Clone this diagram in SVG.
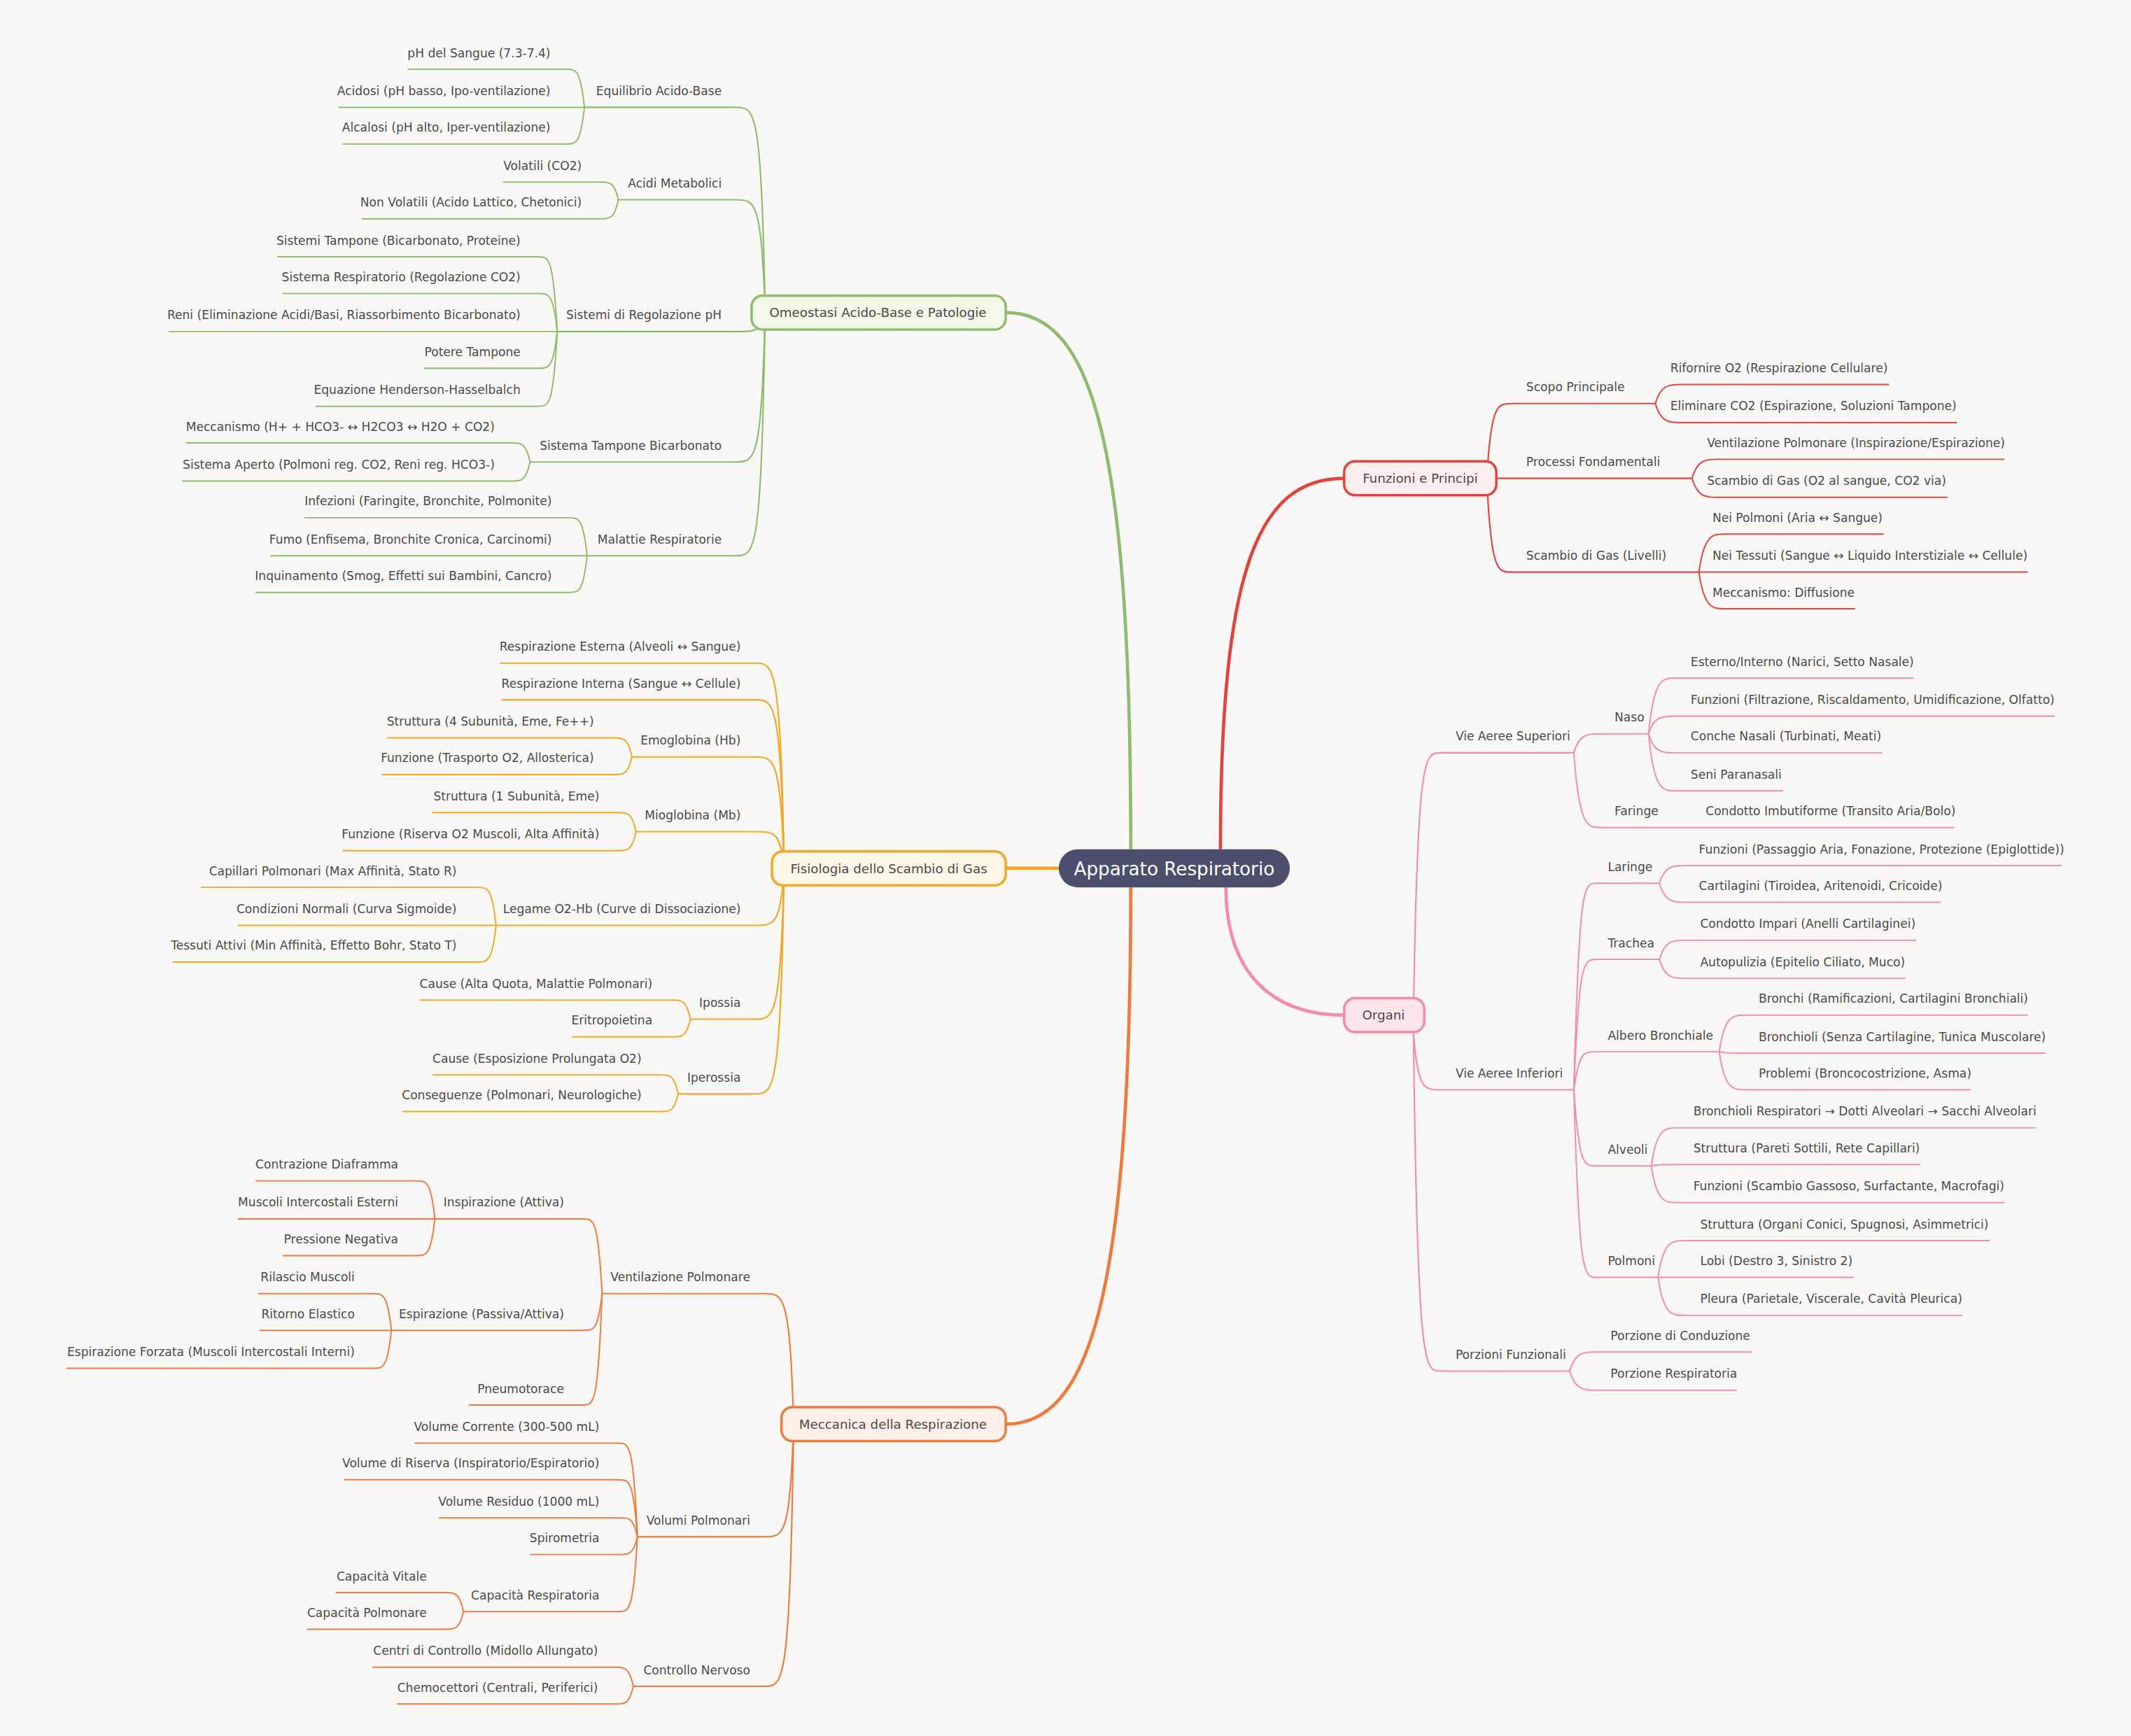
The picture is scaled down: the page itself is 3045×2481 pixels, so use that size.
<svg xmlns="http://www.w3.org/2000/svg" width="3045" height="2481" viewBox="0 0 3045 2481">
<style>
text{font-family:"DejaVu Sans","Noto Sans",sans-serif;fill:#4a4a4a;font-size:8.8px}
.e{text-anchor:end}
.c{text-anchor:middle;font-size:9.4px}
path{fill:none}
.g{stroke:#8fbb6e}.r{stroke:#e0443a}.p{stroke:#f78aa6}.o{stroke:#f5a623}.m{stroke:#ee7a3c}
.main{stroke-width:2.4}.sub{stroke-width:1.1}.leaf{stroke-width:1}
</style>
<rect width="3045" height="2481" fill="#f9f8f6"/>
<g transform="scale(1.942)">
<g id="connectors">
<path class="g main" d="M832,625 C832,330 805,230 740,230"/>
<path class="r main" d="M898,625 C898,420 925,352 989,352"/>
<path class="p main" d="M902,653 C902,715 935,747 989,747"/>
<path class="o main" d="M779,639 H740"/>
<path class="m main" d="M832,653 C832,960 800,1048 740,1048"/>
<g class="g sub">
<path d="M563,230 C560,79 556,79 541,79 H430"/>
<path d="M563,230 C560,147 556,147 541,147 H455"/>
<path d="M563,230 C560,244 556,244 541,244 H410"/>
<path d="M563,230 C560,340 556,340 541,340 H390"/>
<path d="M563,230 C560,409 556,409 541,409 H432"/>
</g>
<g class="g leaf">
<path d="M430,79 C427,51 424,51 416,51 H300"/><path d="M430,79 H249"/><path d="M430,79 C427,106 424,106 416,106 H252"/>
<path d="M455,147 C452,134 449,134 441,134 H370"/><path d="M455,147 C452,161 449,161 441,161 H266"/>
<path d="M410,244 C407,189 404,189 396,189 H204"/><path d="M410,244 C407,216 404,216 396,216 H208"/><path d="M410,244 H124"/><path d="M410,244 C407,271 404,271 396,271 H312"/><path d="M410,244 C407,299 404,299 396,299 H232"/>
<path d="M390,340 C387,326 384,326 376,326 H137"/><path d="M390,340 C387,354 384,354 376,354 H134"/>
<path d="M432,409 C429,381 426,381 418,381 H224"/><path d="M432,409 H199"/><path d="M432,409 C429,436 426,436 418,436 H188"/>
</g>
<g class="o sub">
<path d="M577,639 C574,488 570,488 555,488 H368"/>
<path d="M577,639 C574,515 570,515 555,515 H369"/>
<path d="M577,639 C574,557 570,557 555,557 H465"/>
<path d="M577,639 C574,612 570,612 555,612 H468"/>
<path d="M577,639 C574,681 570,681 555,681 H365"/>
<path d="M577,639 C574,750 570,750 555,750 H508"/>
<path d="M577,639 C574,805 570,805 555,805 H499"/>
</g>
<g class="o leaf">
<path d="M465,557 C462,543 459,543 451,543 H285"/><path d="M465,557 C462,570 459,570 451,570 H281"/>
<path d="M468,612 C465,598 462,598 454,598 H318"/><path d="M468,612 C465,626 462,626 454,626 H252"/>
<path d="M365,681 C362,653 359,653 351,653 H148"/><path d="M365,681 H175"/><path d="M365,681 C362,708 359,708 351,708 H127"/>
<path d="M508,750 C505,736 502,736 494,736 H309"/><path d="M508,750 C505,763 502,763 494,763 H421"/>
<path d="M499,805 C496,791 493,791 485,791 H318"/><path d="M499,805 C496,818 493,818 485,818 H296"/>
</g>
<g class="m sub">
<path d="M584,1048 C581,952 577,952 562,952 H443"/>
<path d="M584,1048 C581,1131 577,1131 562,1131 H469"/>
<path d="M584,1048 C581,1241 577,1241 562,1241 H466"/>
</g>
<g class="m leaf">
<path d="M443,952 C440,897 437,897 429,897 H320"/><path d="M443,952 C440,979 437,979 429,979 H288"/><path d="M443,952 C440,1034 437,1034 429,1034 H345"/>
<path d="M320,897 C317,869 314,869 306,869 H188"/><path d="M320,897 H175"/><path d="M320,897 C317,924 314,924 306,924 H208"/>
<path d="M288,979 C285,952 282,952 274,952 H190"/><path d="M288,979 H191"/><path d="M288,979 C285,1007 282,1007 274,1007 H49"/>
<path d="M469,1131 C466,1062 463,1062 455,1062 H305"/><path d="M469,1131 C466,1089 463,1089 455,1089 H253"/><path d="M469,1131 C466,1117 463,1117 455,1117 H323"/><path d="M469,1131 C466,1144 463,1144 455,1144 H390"/><path d="M469,1131 C466,1186 463,1186 455,1186 H341"/>
<path d="M341,1186 C338,1172 335,1172 327,1172 H247"/><path d="M341,1186 C338,1199 335,1199 327,1199 H226"/>
<path d="M466,1241 C463,1227 460,1227 452,1227 H274"/><path d="M466,1241 C463,1254 460,1254 452,1254 H292"/>
</g>
<g class="r sub">
<path d="M1094,352 C1097,297 1102,297 1112,297 H1218"/>
<path d="M1094,352 H1245"/>
<path d="M1094,352 C1097,421 1102,421 1112,421 H1250"/>
</g>
<g class="r leaf">
<path d="M1218,297 C1222,283 1228,283 1238,283 H1390"/><path d="M1218,297 C1222,311 1228,311 1238,311 H1440"/>
<path d="M1245,352 C1249,338 1255,338 1265,338 H1475"/><path d="M1245,352 C1249,366 1255,366 1265,366 H1433"/>
<path d="M1250,421 C1254,393 1260,393 1270,393 H1386"/><path d="M1250,421 H1492"/><path d="M1250,421 C1254,448 1260,448 1270,448 H1365"/>
</g>
<g class="p sub">
<path d="M1040,747 C1043,554 1048,554 1060,554 H1158"/>
<path d="M1040,760 C1043,802 1048,802 1060,802 H1158"/>
<path d="M1040,760 C1043,1009 1048,1009 1060,1009 H1155"/>
</g>
<g class="p leaf">
<path d="M1158,554 C1162,540 1168,540 1178,540 H1213"/><path d="M1158,554 C1162,609 1168,609 1178,609 H1438"/>
<path d="M1213,540 C1217,499 1223,499 1233,499 H1408"/><path d="M1213,540 C1217,527 1223,527 1233,527 H1512"/><path d="M1213,540 C1217,554 1223,554 1233,554 H1385"/><path d="M1213,540 C1217,582 1223,582 1233,582 H1312"/>
<path d="M1158,802 C1162,650 1165,650 1175,650 H1221"/><path d="M1158,802 C1162,706 1165,706 1175,706 H1221"/><path d="M1158,802 C1162,774 1165,774 1175,774 H1265"/><path d="M1158,802 C1162,858 1165,858 1175,858 H1215"/><path d="M1158,802 C1162,940 1165,940 1175,940 H1220"/>
<path d="M1221,650 C1225,637 1231,637 1241,637 H1517"/><path d="M1221,650 C1225,664 1231,664 1241,664 H1428"/>
<path d="M1221,706 C1225,692 1231,692 1241,692 H1410"/><path d="M1221,706 C1225,720 1231,720 1241,720 H1402"/>
<path d="M1265,774 C1269,747 1275,747 1285,747 H1492"/><path d="M1265,774 C1269,775 1275,775 1285,775 H1505"/><path d="M1265,774 C1269,802 1275,802 1285,802 H1450"/>
<path d="M1215,858 C1219,830 1225,830 1235,830 H1498"/><path d="M1215,858 C1219,857 1225,857 1235,857 H1413"/><path d="M1215,858 C1219,885 1225,885 1235,885 H1475"/>
<path d="M1220,940 C1224,913 1230,913 1240,913 H1464"/><path d="M1220,940 H1364"/><path d="M1220,940 C1224,968 1230,968 1240,968 H1444"/>
<path d="M1155,1009 C1159,995 1165,995 1175,995 H1289"/><path d="M1155,1009 C1159,1023 1165,1023 1175,1023 H1278"/>
</g>
</g>
<g id="root"><rect x="779" y="625" width="170" height="28" rx="14" fill="#4b4f6b"/><text x="864" y="644" class="c" style="fill:#fff;font-size:13.5px">Apparato Respiratorio</text></g>
<g id="omeostasi"><rect x="553" y="217.5" width="187" height="25" rx="8" fill="#f1f8e8" stroke="#8fbb6e" stroke-width="1.8"/><text x="646" y="233.5" class="c">Omeostasi Acido-Base e Patologie</text></g>
<g id="funzioni"><rect x="989" y="339.5" width="112" height="25" rx="8" fill="#fdeeee" stroke="#e0443a" stroke-width="1.8"/><text x="1045" y="355.5" class="c">Funzioni e Principi</text></g>
<g id="organi"><rect x="989" y="734.5" width="59" height="25" rx="8" fill="#fde5ec" stroke="#f78aa6" stroke-width="1.8"/><text x="1018" y="750.5" class="c">Organi</text></g>
<g id="fisiologia"><rect x="568" y="626.5" width="172" height="25" rx="8" fill="#fef6e6" stroke="#f5a623" stroke-width="1.8"/><text x="654" y="642.5" class="c">Fisiologia dello Scambio di Gas</text></g>
<g id="meccanica"><rect x="575" y="1035.5" width="165" height="25" rx="8" fill="#fdf0e8" stroke="#ee7a3c" stroke-width="1.8"/><text x="657" y="1051.5" class="c">Meccanica della Respirazione</text></g>
<g id="labels-left">
<text class="e" x="531" y="70">Equilibrio Acido-Base</text>
<text class="e" x="405" y="42">pH del Sangue (7.3-7.4)</text>
<text class="e" x="405" y="70">Acidosi (pH basso, Ipo-ventilazione)</text>
<text class="e" x="405" y="97">Alcalosi (pH alto, Iper-ventilazione)</text>
<text class="e" x="531" y="138">Acidi Metabolici</text>
<text class="e" x="428" y="125">Volatili (CO2)</text>
<text class="e" x="428" y="152">Non Volatili (Acido Lattico, Chetonici)</text>
<text class="e" x="531" y="235">Sistemi di Regolazione pH</text>
<text class="e" x="383" y="180">Sistemi Tampone (Bicarbonato, Proteine)</text>
<text class="e" x="383" y="207">Sistema Respiratorio (Regolazione CO2)</text>
<text class="e" x="383" y="235">Reni (Eliminazione Acidi/Basi, Riassorbimento Bicarbonato)</text>
<text class="e" x="383" y="262">Potere Tampone</text>
<text class="e" x="383" y="290">Equazione Henderson-Hasselbalch</text>
<text class="e" x="531" y="331">Sistema Tampone Bicarbonato</text>
<text class="e" x="364" y="317">Meccanismo (H+ + HCO3- ↔ H2CO3 ↔ H2O + CO2)</text>
<text class="e" x="364" y="345">Sistema Aperto (Polmoni reg. CO2, Reni reg. HCO3-)</text>
<text class="e" x="531" y="400">Malattie Respiratorie</text>
<text class="e" x="406" y="372">Infezioni (Faringite, Bronchite, Polmonite)</text>
<text class="e" x="406" y="400">Fumo (Enfisema, Bronchite Cronica, Carcinomi)</text>
<text class="e" x="406" y="427">Inquinamento (Smog, Effetti sui Bambini, Cancro)</text>
<text class="e" x="545" y="479">Respirazione Esterna (Alveoli ↔ Sangue)</text>
<text class="e" x="545" y="506">Respirazione Interna (Sangue ↔ Cellule)</text>
<text class="e" x="545" y="548">Emoglobina (Hb)</text>
<text class="e" x="437" y="534">Struttura (4 Subunità, Eme, Fe++)</text>
<text class="e" x="437" y="561">Funzione (Trasporto O2, Allosterica)</text>
<text class="e" x="545" y="603">Mioglobina (Mb)</text>
<text class="e" x="441" y="589">Struttura (1 Subunità, Eme)</text>
<text class="e" x="441" y="617">Funzione (Riserva O2 Muscoli, Alta Affinità)</text>
<text class="e" x="545" y="672">Legame O2-Hb (Curve di Dissociazione)</text>
<text class="e" x="336" y="644">Capillari Polmonari (Max Affinità, Stato R)</text>
<text class="e" x="336" y="672">Condizioni Normali (Curva Sigmoide)</text>
<text class="e" x="336" y="699">Tessuti Attivi (Min Affinità, Effetto Bohr, Stato T)</text>
<text class="e" x="545" y="741">Ipossia</text>
<text class="e" x="480" y="727">Cause (Alta Quota, Malattie Polmonari)</text>
<text class="e" x="480" y="754">Eritropoietina</text>
<text class="e" x="545" y="796">Iperossia</text>
<text class="e" x="472" y="782">Cause (Esposizione Prolungata O2)</text>
<text class="e" x="472" y="809">Conseguenze (Polmonari, Neurologiche)</text>
<text class="e" x="552" y="943">Ventilazione Polmonare</text>
<text class="e" x="415" y="888">Inspirazione (Attiva)</text>
<text class="e" x="293" y="860">Contrazione Diaframma</text>
<text class="e" x="293" y="888">Muscoli Intercostali Esterni</text>
<text class="e" x="293" y="915">Pressione Negativa</text>
<text class="e" x="415" y="970">Espirazione (Passiva/Attiva)</text>
<text class="e" x="261" y="943">Rilascio Muscoli</text>
<text class="e" x="261" y="970">Ritorno Elastico</text>
<text class="e" x="261" y="998">Espirazione Forzata (Muscoli Intercostali Interni)</text>
<text class="e" x="415" y="1025">Pneumotorace</text>
<text class="e" x="552" y="1122">Volumi Polmonari</text>
<text class="e" x="441" y="1053">Volume Corrente (300-500 mL)</text>
<text class="e" x="441" y="1080">Volume di Riserva (Inspiratorio/Espiratorio)</text>
<text class="e" x="441" y="1108">Volume Residuo (1000 mL)</text>
<text class="e" x="441" y="1135">Spirometria</text>
<text class="e" x="441" y="1177">Capacità Respiratoria</text>
<text class="e" x="314" y="1163">Capacità Vitale</text>
<text class="e" x="314" y="1190">Capacità Polmonare</text>
<text class="e" x="552" y="1232">Controllo Nervoso</text>
<text class="e" x="440" y="1218">Centri di Controllo (Midollo Allungato)</text>
<text class="e" x="440" y="1245">Chemocettori (Centrali, Periferici)</text>
</g>
<g id="labels-right">
<text x="1123" y="288">Scopo Principale</text>
<text x="1229" y="274">Rifornire O2 (Respirazione Cellulare)</text>
<text x="1229" y="302">Eliminare CO2 (Espirazione, Soluzioni Tampone)</text>
<text x="1123" y="343">Processi Fondamentali</text>
<text x="1256" y="329">Ventilazione Polmonare (Inspirazione/Espirazione)</text>
<text x="1256" y="357">Scambio di Gas (O2 al sangue, CO2 via)</text>
<text x="1123" y="412">Scambio di Gas (Livelli)</text>
<text x="1260" y="384">Nei Polmoni (Aria ↔ Sangue)</text>
<text x="1260" y="412">Nei Tessuti (Sangue ↔ Liquido Interstiziale ↔ Cellule)</text>
<text x="1260" y="439">Meccanismo: Diffusione</text>
<text x="1071" y="545">Vie Aeree Superiori</text>
<text x="1188" y="531">Naso</text>
<text x="1244" y="490">Esterno/Interno (Narici, Setto Nasale)</text>
<text x="1244" y="518">Funzioni (Filtrazione, Riscaldamento, Umidificazione, Olfatto)</text>
<text x="1244" y="545">Conche Nasali (Turbinati, Meati)</text>
<text x="1244" y="573">Seni Paranasali</text>
<text x="1188" y="600">Faringe</text>
<text x="1255" y="600">Condotto Imbutiforme (Transito Aria/Bolo)</text>
<text x="1071" y="793">Vie Aeree Inferiori</text>
<text x="1183" y="641">Laringe</text>
<text x="1250" y="628">Funzioni (Passaggio Aria, Fonazione, Protezione (Epiglottide))</text>
<text x="1250" y="655">Cartilagini (Tiroidea, Aritenoidi, Cricoide)</text>
<text x="1183" y="697">Trachea</text>
<text x="1251" y="683">Condotto Impari (Anelli Cartilaginei)</text>
<text x="1251" y="711">Autopulizia (Epitelio Ciliato, Muco)</text>
<text x="1183" y="765">Albero Bronchiale</text>
<text x="1294" y="738">Bronchi (Ramificazioni, Cartilagini Bronchiali)</text>
<text x="1294" y="766">Bronchioli (Senza Cartilagine, Tunica Muscolare)</text>
<text x="1294" y="793">Problemi (Broncocostrizione, Asma)</text>
<text x="1183" y="849">Alveoli</text>
<text x="1246" y="821">Bronchioli Respiratori → Dotti Alveolari → Sacchi Alveolari</text>
<text x="1246" y="848">Struttura (Pareti Sottili, Rete Capillari)</text>
<text x="1246" y="876">Funzioni (Scambio Gassoso, Surfactante, Macrofagi)</text>
<text x="1183" y="931">Polmoni</text>
<text x="1251" y="904">Struttura (Organi Conici, Spugnosi, Asimmetrici)</text>
<text x="1251" y="931">Lobi (Destro 3, Sinistro 2)</text>
<text x="1251" y="959">Pleura (Parietale, Viscerale, Cavità Pleurica)</text>
<text x="1071" y="1000">Porzioni Funzionali</text>
<text x="1185" y="986">Porzione di Conduzione</text>
<text x="1185" y="1014">Porzione Respiratoria</text>
</g>
</g>
</svg>
